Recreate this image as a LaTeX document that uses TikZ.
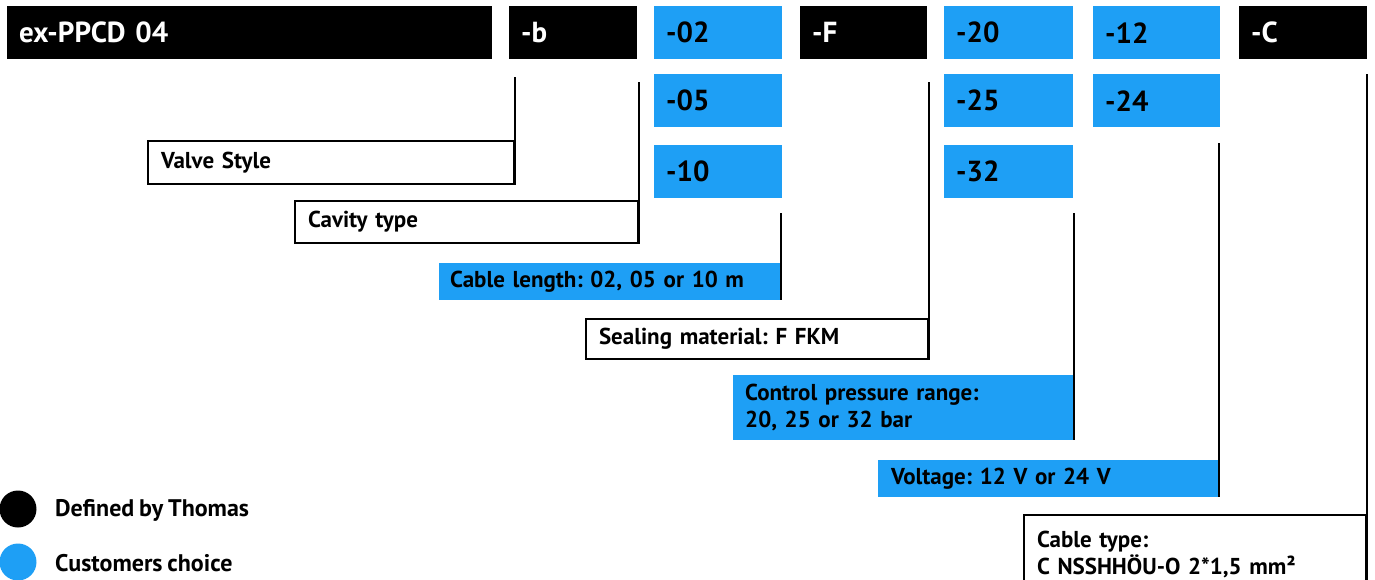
\documentclass[tikz,border=0pt]{standalone}
\usepackage{fontspec}
\setmainfont{PT Sans}[WordSpace=0.8]
\frenchspacing
\definecolor{tblue}{RGB}{30,159,245}
\tikzset{
  codebox/.style={anchor=north west, minimum height=53pt, inner xsep=12pt, inner ysep=0pt,
    text width=104pt, align=left, font=\fontsize{29}{34}\selectfont\bfseries},
  fixedcode/.style={codebox, fill=black, text=white},
  choicecode/.style={codebox, fill=tblue, text=black},
  lbl/.style={anchor=north west, inner xsep=13pt, inner ysep=0pt, align=left,
    font=\fontsize{23}{27}\selectfont\bfseries},
  whitelbl/.style={lbl, draw=black, line width=2pt, fill=white},
  bluelbl/.style={lbl, fill=tblue},
  conn/.style={draw=black, line width=2pt},
  legdot/.style={circle, minimum size=37pt, inner sep=0pt},
  legtxt/.style={anchor=west, inner sep=0pt, font=\fontsize{24}{27}\selectfont\bfseries}
}
\begin{document}
\begin{tikzpicture}[x=1pt,y=-1pt]
\useasboundingbox (0,0) rectangle (1375,579);
\clip (0,0) rectangle (1375,579);
% top row
\node[fixedcode, text width=461pt] (ex) at (7,6) {ex-PPCD 04};
\node[fixedcode] (b) at (509,6) {-b};
\node[choicecode] (c02) at (654,6) {-02};
\node[fixedcode, text width=103pt] (f) at (800,6) {-F};
\node[choicecode, text width=105pt] (c20) at (944,6) {-20};
\node[choicecode, text width=103pt] (c12) at (1093,6) {-12};
\node[fixedcode] (c) at (1239,6) {-C};
% second row
\node[choicecode] (c05) at (654,74) {-05};
\node[choicecode, text width=105pt] (c25) at (944,74) {-25};
\node[choicecode, text width=103pt] (c24) at (1093,74) {-24};
% third row
\node[choicecode] (c10) at (654,145) {-10};
\node[choicecode, text width=105pt] (c32) at (944,145) {-32};
% labels
\node[whitelbl, text width=340pt, minimum height=43pt] (vs) at (147,140) {Valve Style};
\node[whitelbl, text width=317pt, minimum height=42pt] (ct) at (294,200) {Cavity type};
\node[bluelbl, inner xsep=11pt, text width=320pt, minimum height=37pt] (cl) at (439,263) {Cable length: 02, 05 or 10 m};
\node[whitelbl, text width=316pt, minimum height=40pt] (sm) at (585,318) {Sealing material: F FKM};
\node[bluelbl, inner xsep=12pt, text width=317pt, minimum height=65pt] (cp) at (733,375) {Control pressure range:\\20, 25 or 32 bar};
\node[bluelbl, text width=315pt, minimum height=37pt] (vo) at (878,460) {Voltage: 12 V or 24 V};
\node[whitelbl, text width=316pt, minimum height=78pt] (cb) at (1023,514) {Cable type:\\C NSSHHÖU-O 2*1,5 mm²};
% connectors
\draw[conn] (vs.north east |- b.south) ++(0,18) -- (vs.south east);
\draw[conn] (ct.north east |- b.south) ++(0,23) -- (ct.south east);
\draw[conn] (cl.north east |- c10.south) ++(0,15) -- (cl.south east);
\draw[conn] (sm.north east |- f.south) ++(0,23) -- (sm.south east);
\draw[conn] (cp.north east |- c32.south) ++(0,15) -- (cp.south east);
\draw[conn] (vo.north east |- c24.south) ++(0,16) -- (vo.south east);
\draw[conn] (cb.north east |- c.south) ++(0,15) -- (cb.south east);
% legend
\node[legdot, fill=black] (ld1) at (18,509) {};
\node[legtxt] (lt1) at (55,510) {Defined by Thomas};
\node[legdot, fill=tblue] (ld2) at (18,562) {};
\node[legtxt] (lt2) at (55,563) {Customers choice};
\end{tikzpicture}
\end{document}
